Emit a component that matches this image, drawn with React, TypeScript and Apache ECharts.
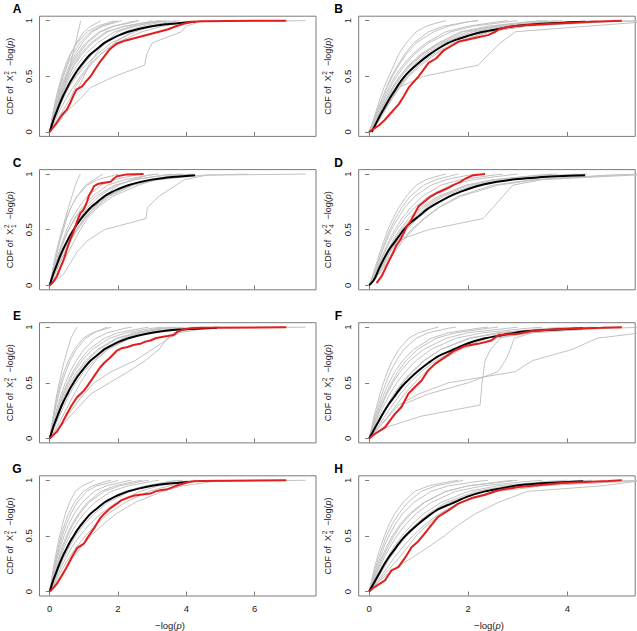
import React, { useEffect, useRef } from 'react';
import * as echarts from 'echarts';

// y-levels at which grey curves' x-positions (quantiles) were read
const LEVELS = [0, 0.1, 0.2, 0.3, 0.4, 0.5, 0.6, 0.7, 0.8, 0.9, 0.95, 0.99, 1];

const X_TICKS_LEFT = [0, 2, 4, 6];
const X_TICKS_RIGHT = [0, 2, 4];
const Y_TICKS = [0, 0.5, 1];

// ---------- Panel A ----------
const GREY_A = [
  [0, 0.1, 0.2, 0.3, 0.42, 0.52, 0.6, 0.68, 0.76, 0.83, 0.87, 0.9, 0.9],
  [0, 0.06, 0.13, 0.2, 0.28, 0.38, 0.5, 0.62, 0.78, 1.0, 1.2, 1.45, 1.5],
  [0, 0.07, 0.15, 0.24, 0.33, 0.45, 0.58, 0.75, 0.95, 1.25, 1.55, 2.0, 2.1],
  [0, 0.08, 0.17, 0.27, 0.38, 0.5, 0.65, 0.85, 1.1, 1.5, 1.9, 2.5, 2.6],
  [0, 0.09, 0.18, 0.29, 0.42, 0.55, 0.72, 0.95, 1.25, 1.7, 2.2, 2.9, 3.0],
  [0, 0.1, 0.2, 0.32, 0.45, 0.6, 0.8, 1.05, 1.4, 1.9, 2.4, 3.2, 3.4],
  [0, 0.08, 0.16, 0.25, 0.36, 0.48, 0.62, 0.8, 1.05, 1.45, 1.85, 2.4, 2.6],
  [0, 0.12, 0.25, 0.4, 0.55, 0.75, 0.98, 1.25, 1.65, 2.2, 2.7, 3.3, 3.5],
  [0, 0.1, 0.22, 0.38, 0.55, 0.78, 1.05, 1.4, 1.8, 2.5, 3.0, 3.6, 3.8],
  [0, 0.15, 0.3, 0.48, 0.68, 0.9, 1.15, 1.5, 1.95, 2.7, 3.3, 4.0, 4.2],
  [0, 0.25, 0.55, 0.9, 1.2, 1.9, 2.78, 2.84, 3.0, 3.85, 4.0, 4.4, 7.5],
  [0, 0.2, 0.4, 0.6, 0.75, 0.95, 1.2, 1.5, 1.9, 2.4, 2.9, 3.5, 3.7],
  [0, 0.05, 0.11, 0.18, 0.26, 0.35, 0.46, 0.6, 0.8, 1.1, 1.4, 1.8, 1.9],
  [0, 0.3, 0.5, 0.65, 0.85, 1.0, 1.15, 1.35, 1.6, 2.0, 2.5, 3.0, 3.2],
  [0, 0.07, 0.14, 0.22, 0.3, 0.4, 0.52, 0.68, 0.88, 1.2, 1.5, 1.9, 2.0],
  [0, 0.1, 0.2, 0.3, 0.42, 0.55, 0.7, 0.9, 1.2, 1.65, 2.2, 3.0, 3.3],
];
const BLACK_A = [[0, 0], [0.1, 0.1], [0.2, 0.18], [0.3, 0.26], [0.4, 0.33], [0.5, 0.39], [0.6, 0.45], [0.7, 0.5], [0.8, 0.55], [1, 0.63], [1.2, 0.7], [1.4, 0.75], [1.6, 0.8], [1.8, 0.835], [2, 0.865], [2.3, 0.9], [2.6, 0.925], [3, 0.95], [3.4, 0.967], [3.8, 0.978], [4.26, 0.99]];
const RED_A = [[0, 0], [0.1, 0.04], [0.2, 0.08], [0.35, 0.15], [0.5, 0.2], [0.6, 0.26], [0.7, 0.33], [0.78, 0.38], [0.95, 0.41], [1.05, 0.45], [1.2, 0.5], [1.3, 0.55], [1.45, 0.62], [1.6, 0.68], [1.75, 0.74], [1.95, 0.79], [2.2, 0.82], [2.45, 0.84], [2.7, 0.86], [2.95, 0.88], [3.2, 0.9], [3.45, 0.92], [3.7, 0.95], [3.9, 0.97], [4.1, 0.985], [4.4, 0.995], [6.93, 1]];

// ---------- Panel B ----------
const GREY_B = [
  [0, 0.08, 0.15, 0.22, 0.3, 0.4, 0.5, 0.6, 0.75, 0.95, 1.15, 1.45, 1.55],
  [0, 0.1, 0.18, 0.27, 0.36, 0.47, 0.6, 0.75, 0.95, 1.3, 1.6, 2.0, 2.2],
  [0, 0.12, 0.22, 0.32, 0.43, 0.56, 0.72, 0.92, 1.2, 1.65, 2.1, 2.8, 3.0],
  [0, 0.1, 0.2, 0.3, 0.4, 0.52, 0.68, 0.88, 1.15, 1.55, 2.0, 2.6, 2.8],
  [0, 0.14, 0.25, 0.36, 0.48, 0.62, 0.8, 1.05, 1.4, 1.9, 2.5, 3.3, 3.6],
  [0, 0.15, 0.28, 0.4, 0.54, 0.7, 0.9, 1.15, 1.5, 2.1, 2.7, 3.6, 3.9],
  [0, 0.2, 0.33, 0.47, 0.62, 0.8, 1.05, 1.35, 1.75, 2.45, 3.1, 4.2, 4.6],
  [0, 0.17, 0.3, 0.44, 0.6, 0.78, 1.0, 1.3, 1.7, 2.4, 3.2, 4.8, 5.6],
  [0, 0.12, 0.24, 0.35, 0.47, 0.62, 0.82, 1.08, 1.45, 2.0, 2.6, 3.5, 3.8],
  [0, 0.09, 0.17, 0.26, 0.35, 0.45, 0.58, 0.72, 0.9, 1.2, 1.5, 2.0, 2.2],
  [0, 0.12, 0.25, 0.4, 0.6, 1.1, 2.2, 2.42, 2.65, 2.95, 4.4, 5.6, 5.7],
  [0, 0.18, 0.32, 0.45, 0.6, 0.75, 0.95, 1.2, 1.55, 2.2, 3.0, 4.5, 5.6],
  [0, 0.13, 0.26, 0.38, 0.5, 0.65, 0.85, 1.1, 1.4, 1.85, 2.4, 3.2, 3.5],
];
const BLACK_B = [[0.05, 0], [0.1, 0.04], [0.2, 0.13], [0.3, 0.21], [0.4, 0.29], [0.5, 0.36], [0.6, 0.43], [0.7, 0.49], [0.8, 0.54], [1, 0.62], [1.2, 0.69], [1.4, 0.75], [1.6, 0.8], [1.8, 0.835], [2, 0.865], [2.3, 0.9], [2.6, 0.925], [3, 0.955], [3.4, 0.97], [3.8, 0.98], [4.36, 0.99]];
const RED_B = [[0, 0], [0.1, 0.03], [0.2, 0.06], [0.3, 0.1], [0.4, 0.15], [0.5, 0.2], [0.6, 0.25], [0.7, 0.32], [0.8, 0.4], [0.9, 0.45], [1.0, 0.5], [1.1, 0.56], [1.2, 0.62], [1.35, 0.66], [1.5, 0.73], [1.65, 0.77], [1.8, 0.81], [2.0, 0.83], [2.2, 0.85], [2.4, 0.87], [2.55, 0.9], [2.65, 0.93], [2.9, 0.95], [3.2, 0.96], [3.6, 0.97], [4.0, 0.98], [4.5, 0.99], [5.1, 1]];

// ---------- Panel C ----------
const GREY_C = [
  [0, 0.08, 0.15, 0.22, 0.3, 0.38, 0.45, 0.55, 0.65, 0.75, 0.82, 0.88, 0.9],
  [0, 0.07, 0.14, 0.22, 0.3, 0.4, 0.5, 0.62, 0.8, 1.05, 1.3, 1.5, 1.55],
  [0, 0.08, 0.17, 0.27, 0.38, 0.5, 0.65, 0.85, 1.1, 1.5, 1.9, 2.5, 2.7],
  [0, 0.1, 0.2, 0.3, 0.42, 0.56, 0.72, 0.95, 1.25, 1.7, 2.2, 2.9, 3.1],
  [0, 0.12, 0.25, 0.38, 0.52, 0.68, 0.88, 1.1, 1.45, 1.95, 2.5, 3.3, 3.6],
  [0, 0.15, 0.3, 0.45, 0.6, 0.78, 1.0, 1.3, 1.7, 2.3, 2.9, 3.8, 4.1],
  [0, 0.1, 0.22, 0.35, 0.5, 0.7, 0.95, 1.25, 1.65, 2.4, 3.2, 4.5, 5.8],
  [0, 0.09, 0.18, 0.28, 0.4, 0.55, 0.75, 1.0, 1.35, 1.9, 2.5, 3.4, 3.8],
  [0, 0.4, 0.6, 0.8, 1.1, 1.6, 2.82, 2.86, 3.2, 3.7, 3.95, 4.6, 7.5],
  [0, 0.2, 0.35, 0.55, 0.72, 0.9, 1.1, 1.4, 1.85, 2.6, 3.1, 3.9, 4.2],
  [0, 0.06, 0.12, 0.19, 0.27, 0.36, 0.48, 0.62, 0.8, 1.1, 1.4, 1.9, 2.0],
  [0, 0.11, 0.24, 0.4, 0.58, 0.78, 1.02, 1.3, 1.6, 2.0, 2.4, 2.9, 3.2],
  [0, 0.13, 0.28, 0.45, 0.62, 0.82, 1.05, 1.35, 1.75, 2.45, 3.0, 3.6, 3.9],
];
const BLACK_C = [[0, 0], [0.1, 0.1], [0.2, 0.18], [0.3, 0.26], [0.4, 0.33], [0.5, 0.39], [0.6, 0.45], [0.7, 0.5], [0.8, 0.55], [1, 0.63], [1.2, 0.7], [1.4, 0.75], [1.6, 0.8], [1.8, 0.835], [2, 0.865], [2.3, 0.9], [2.6, 0.925], [3, 0.95], [3.4, 0.967], [3.8, 0.978], [4.26, 0.99]];
const RED_C = [[0, 0], [0.1, 0.03], [0.21, 0.08], [0.3, 0.15], [0.41, 0.23], [0.5, 0.32], [0.6, 0.41], [0.68, 0.47], [0.75, 0.53], [0.82, 0.59], [0.9, 0.65], [0.97, 0.67], [1.04, 0.71], [1.1, 0.76], [1.14, 0.8], [1.19, 0.83], [1.25, 0.86], [1.29, 0.89], [1.4, 0.91], [1.55, 0.92], [1.78, 0.93], [1.88, 0.96], [1.97, 0.98], [2.26, 0.997], [2.75, 1]];

// ---------- Panel D ----------
const GREY_D = [
  [0, 0.08, 0.15, 0.22, 0.3, 0.38, 0.48, 0.6, 0.75, 0.95, 1.15, 1.45, 1.55],
  [0, 0.1, 0.18, 0.26, 0.35, 0.45, 0.58, 0.72, 0.92, 1.25, 1.55, 2.0, 2.2],
  [0, 0.12, 0.22, 0.32, 0.43, 0.56, 0.72, 0.92, 1.2, 1.65, 2.1, 2.8, 3.0],
  [0, 0.14, 0.26, 0.38, 0.5, 0.65, 0.85, 1.1, 1.45, 2.0, 2.6, 3.5, 3.8],
  [0, 0.16, 0.3, 0.43, 0.57, 0.75, 0.98, 1.25, 1.6, 2.2, 2.9, 4.0, 4.4],
  [0, 0.18, 0.33, 0.48, 0.65, 0.85, 1.1, 1.4, 1.8, 2.5, 3.3, 4.8, 5.6],
  [0, 0.15, 0.3, 0.42, 0.55, 1.2, 2.3, 2.5, 2.7, 2.9, 3.5, 5.3, 5.6],
  [0, 0.12, 0.24, 0.36, 0.48, 0.62, 0.8, 1.05, 1.4, 1.95, 2.5, 3.4, 3.7],
  [0, 0.2, 0.36, 0.52, 0.68, 0.88, 1.12, 1.42, 1.85, 2.6, 3.4, 5.0, 5.6],
  [0, 0.11, 0.2, 0.3, 0.4, 0.52, 0.66, 0.84, 1.08, 1.45, 1.85, 2.5, 2.7],
  [0, 0.15, 0.28, 0.4, 0.54, 0.7, 0.9, 1.15, 1.5, 2.1, 2.8, 3.8, 4.2],
  [0, 0.09, 0.17, 0.25, 0.33, 0.42, 0.53, 0.66, 0.83, 1.1, 1.35, 1.7, 1.8],
];
const BLACK_D = [[0, 0], [0.1, 0.05], [0.2, 0.15], [0.3, 0.24], [0.4, 0.32], [0.5, 0.38], [0.6, 0.44], [0.7, 0.5], [0.83, 0.56], [1, 0.62], [1.16, 0.68], [1.3, 0.72], [1.5, 0.77], [1.7, 0.815], [1.84, 0.84], [2.17, 0.89], [2.58, 0.93], [3, 0.955], [3.4, 0.97], [3.8, 0.98], [4.36, 0.99]];
const RED_D = [[0.15, 0.02], [0.25, 0.08], [0.38, 0.2], [0.48, 0.29], [0.55, 0.36], [0.63, 0.41], [0.7, 0.47], [0.76, 0.53], [0.83, 0.57], [0.9, 0.63], [1.0, 0.71], [1.08, 0.74], [1.16, 0.77], [1.25, 0.8], [1.37, 0.83], [1.47, 0.85], [1.57, 0.87], [1.7, 0.9], [1.84, 0.93], [1.95, 0.96], [2.1, 0.99], [2.34, 1.0]];

// ---------- Panel E ----------
const GREY_E = [
  [0, 0.05, 0.1, 0.15, 0.21, 0.28, 0.35, 0.43, 0.52, 0.62, 0.7, 0.78, 0.8],
  [0, 0.06, 0.12, 0.19, 0.27, 0.36, 0.47, 0.6, 0.78, 1.05, 1.3, 1.6, 1.7],
  [0, 0.07, 0.15, 0.24, 0.34, 0.46, 0.6, 0.78, 1.0, 1.35, 1.7, 2.2, 2.4],
  [0, 0.08, 0.17, 0.27, 0.38, 0.52, 0.68, 0.88, 1.15, 1.6, 2.0, 2.7, 2.9],
  [0, 0.1, 0.2, 0.32, 0.45, 0.6, 0.8, 1.05, 1.4, 1.95, 2.5, 3.2, 3.5],
  [0, 0.12, 0.24, 0.37, 0.51, 0.68, 0.9, 1.18, 1.55, 2.15, 2.7, 3.4, 3.7],
  [0, 0.09, 0.18, 0.29, 0.41, 0.55, 0.72, 0.95, 1.25, 1.75, 2.25, 3.0, 3.3],
  [0, 0.14, 0.28, 0.43, 0.58, 0.77, 1.0, 1.3, 1.7, 2.35, 2.9, 3.6, 3.9],
  [0, 0.11, 0.22, 0.35, 0.49, 0.65, 0.85, 1.1, 1.45, 2.0, 2.6, 3.3, 3.6],
  [0, 0.05, 0.11, 0.17, 0.24, 0.32, 0.42, 0.55, 0.72, 0.98, 1.25, 1.7, 1.8],
  [0, 0.2, 0.38, 0.55, 0.72, 0.9, 1.1, 1.35, 1.7, 2.3, 2.9, 3.8, 4.3],
  [0, 0.3, 0.6, 0.9, 1.2, 1.75, 2.3, 2.8, 3.2, 3.45, 3.65, 4.2, 7.5],
  [0, 0.25, 0.5, 0.75, 1.0, 1.3, 1.8, 2.5, 3.0, 3.5, 3.8, 4.6, 5.0],
];
const BLACK_E = [[0, 0], [0.1, 0.1], [0.2, 0.18], [0.3, 0.26], [0.4, 0.33], [0.5, 0.39], [0.6, 0.45], [0.7, 0.5], [0.8, 0.55], [1, 0.63], [1.2, 0.7], [1.4, 0.75], [1.6, 0.8], [1.8, 0.835], [2, 0.865], [2.3, 0.9], [2.6, 0.925], [3, 0.95], [3.4, 0.967], [3.8, 0.978], [4.4, 0.988], [4.9, 0.995]];
const RED_E = [[0, 0], [0.1, 0.03], [0.21, 0.06], [0.35, 0.13], [0.5, 0.22], [0.65, 0.3], [0.8, 0.37], [0.9, 0.4], [1.0, 0.43], [1.1, 0.47], [1.19, 0.51], [1.3, 0.56], [1.48, 0.64], [1.6, 0.68], [1.78, 0.73], [1.97, 0.79], [2.1, 0.81], [2.26, 0.82], [2.45, 0.84], [2.65, 0.85], [2.8, 0.87], [2.95, 0.88], [3.1, 0.9], [3.24, 0.91], [3.45, 0.92], [3.63, 0.93], [3.75, 0.96], [3.92, 0.98], [4.15, 0.99], [4.41, 0.994], [6.93, 1]];

// ---------- Panel F ----------
const GREY_F = [
  [0, 0.06, 0.12, 0.19, 0.26, 0.34, 0.43, 0.55, 0.7, 0.95, 1.2, 1.6, 1.75],
  [0, 0.07, 0.14, 0.22, 0.3, 0.4, 0.52, 0.68, 0.9, 1.25, 1.6, 2.2, 2.4],
  [0, 0.09, 0.17, 0.26, 0.36, 0.48, 0.63, 0.82, 1.1, 1.55, 2.0, 2.8, 3.0],
  [0, 0.1, 0.2, 0.3, 0.42, 0.56, 0.73, 0.95, 1.25, 1.75, 2.3, 3.2, 3.5],
  [0, 0.13, 0.25, 0.38, 0.52, 0.68, 0.88, 1.12, 1.45, 2.0, 2.6, 3.6, 4.0],
  [0, 0.12, 0.24, 0.36, 0.5, 0.66, 0.86, 1.1, 1.45, 2.05, 2.7, 3.8, 4.2],
  [0, 0.17, 0.32, 0.47, 0.63, 0.82, 1.05, 1.35, 1.75, 2.4, 3.1, 4.2, 4.6],
  [0, 0.08, 0.16, 0.25, 0.34, 0.45, 0.58, 0.75, 0.98, 1.35, 1.75, 2.4, 2.6],
  [0, 0.2, 0.38, 0.55, 0.72, 0.92, 1.15, 1.45, 1.85, 2.55, 3.3, 4.8, 5.6],
  [0, 0.05, 0.1, 0.16, 0.22, 0.29, 0.37, 0.47, 0.6, 0.8, 1.0, 1.3, 1.4],
  [0, 0.35, 1.05, 2.24, 2.26, 2.28, 2.31, 2.34, 2.45, 2.65, 3.0, 4.0, 4.5],
  [0, 0.3, 0.5, 0.65, 1.2, 2.0, 2.6, 2.75, 2.85, 2.93, 3.3, 4.3, 4.8],
  [0, 0.2, 0.4, 0.6, 1.0, 1.6, 2.95, 3.3, 4.1, 4.6, 5.5, 5.7, 5.8],
];
const BLACK_F = [[0, 0], [0.1, 0.08], [0.2, 0.16], [0.3, 0.24], [0.4, 0.31], [0.5, 0.37], [0.65, 0.46], [0.8, 0.53], [1, 0.61], [1.2, 0.68], [1.4, 0.74], [1.66, 0.79], [2, 0.855], [2.34, 0.9], [2.7, 0.93], [3.01, 0.955], [3.4, 0.97], [3.8, 0.98], [4.32, 0.99]];
const RED_F = [[0, 0], [0.11, 0.04], [0.32, 0.1], [0.52, 0.22], [0.65, 0.28], [0.79, 0.4], [0.92, 0.46], [1.06, 0.52], [1.19, 0.61], [1.33, 0.67], [1.53, 0.73], [1.73, 0.79], [1.93, 0.83], [2.2, 0.85], [2.47, 0.88], [2.61, 0.93], [3.01, 0.94], [3.35, 0.97], [4.02, 0.985], [4.69, 0.994], [5.1, 1]];

// ---------- Panel G ----------
const GREY_G = [
  [0, 0.05, 0.1, 0.16, 0.22, 0.29, 0.37, 0.46, 0.58, 0.75, 0.95, 1.25, 1.3],
  [0, 0.06, 0.12, 0.18, 0.25, 0.33, 0.43, 0.55, 0.72, 0.98, 1.25, 1.65, 1.8],
  [0, 0.07, 0.14, 0.22, 0.31, 0.42, 0.55, 0.72, 0.95, 1.3, 1.65, 2.2, 2.4],
  [0, 0.08, 0.16, 0.26, 0.36, 0.49, 0.64, 0.84, 1.1, 1.5, 1.9, 2.5, 2.7],
  [0, 0.1, 0.2, 0.31, 0.43, 0.58, 0.76, 1.0, 1.32, 1.8, 2.3, 3.0, 3.2],
  [0, 0.12, 0.24, 0.37, 0.52, 0.7, 0.92, 1.2, 1.6, 2.2, 2.8, 3.5, 3.8],
  [0, 0.09, 0.18, 0.28, 0.39, 0.52, 0.68, 0.88, 1.15, 1.6, 2.05, 2.7, 2.9],
  [0, 0.15, 0.3, 0.47, 0.65, 0.88, 1.15, 1.5, 1.95, 2.65, 3.2, 3.9, 4.3],
  [0, 0.18, 0.36, 0.56, 0.78, 1.05, 1.35, 1.72, 2.2, 2.9, 3.5, 4.3, 5.0],
  [0, 0.13, 0.26, 0.41, 0.57, 0.76, 1.0, 1.3, 1.7, 2.35, 2.9, 3.6, 3.9],
  [0, 0.22, 0.45, 0.68, 0.92, 1.2, 1.55, 1.95, 2.5, 3.3, 3.9, 4.8, 7.5],
  [0, 0.06, 0.13, 0.2, 0.28, 0.37, 0.48, 0.62, 0.8, 1.08, 1.38, 1.9, 2.0],
];
const BLACK_G = [[0, 0], [0.1, 0.1], [0.2, 0.18], [0.3, 0.26], [0.4, 0.33], [0.5, 0.39], [0.6, 0.45], [0.7, 0.5], [0.8, 0.55], [1, 0.63], [1.2, 0.7], [1.4, 0.75], [1.6, 0.8], [1.8, 0.835], [2, 0.865], [2.3, 0.9], [2.6, 0.925], [3, 0.95], [3.5, 0.97], [4.05, 0.985]];
const RED_G = [[0, 0], [0.1, 0.03], [0.21, 0.07], [0.35, 0.14], [0.5, 0.22], [0.65, 0.31], [0.8, 0.39], [0.9, 0.41], [1.0, 0.43], [1.1, 0.48], [1.19, 0.52], [1.3, 0.57], [1.48, 0.66], [1.6, 0.7], [1.78, 0.75], [1.97, 0.79], [2.1, 0.82], [2.26, 0.84], [2.45, 0.86], [2.65, 0.87], [2.95, 0.88], [3.1, 0.9], [3.24, 0.91], [3.45, 0.92], [3.63, 0.94], [3.8, 0.96], [4.02, 0.98], [4.2, 0.99], [4.41, 0.994], [6.93, 1]];

// ---------- Panel H ----------
const GREY_H = [
  [0, 0.05, 0.1, 0.16, 0.23, 0.31, 0.4, 0.52, 0.68, 0.92, 1.2, 1.65, 1.8],
  [0, 0.07, 0.14, 0.22, 0.3, 0.4, 0.52, 0.68, 0.9, 1.25, 1.6, 2.2, 2.4],
  [0, 0.08, 0.16, 0.25, 0.35, 0.47, 0.62, 0.82, 1.1, 1.55, 2.0, 2.8, 3.0],
  [0, 0.1, 0.2, 0.3, 0.42, 0.56, 0.73, 0.95, 1.25, 1.75, 2.3, 3.2, 3.5],
  [0, 0.12, 0.24, 0.36, 0.5, 0.66, 0.86, 1.1, 1.45, 2.0, 2.6, 3.6, 4.0],
  [0, 0.15, 0.28, 0.42, 0.58, 0.76, 0.98, 1.25, 1.62, 2.25, 2.9, 4.0, 4.5],
  [0, 0.18, 0.34, 0.5, 0.68, 0.88, 1.12, 1.42, 1.82, 2.5, 3.2, 4.6, 5.6],
  [0, 0.2, 0.4, 0.6, 0.78, 0.95, 1.18, 1.45, 1.85, 2.6, 3.5, 5.2, 5.6],
  [0, 0.22, 0.5, 0.85, 1.2, 1.52, 1.8, 2.15, 2.6, 3.2, 4.7, 5.4, 5.6],
  [0, 0.09, 0.18, 0.27, 0.38, 0.5, 0.65, 0.85, 1.12, 1.55, 2.0, 2.7, 2.9],
  [0, 0.13, 0.26, 0.4, 0.55, 0.72, 0.93, 1.2, 1.55, 2.15, 2.8, 3.9, 4.3],
  [0, 0.06, 0.12, 0.19, 0.27, 0.35, 0.46, 0.6, 0.78, 1.05, 1.35, 1.8, 1.9],
];
const BLACK_H = [[0, 0], [0.1, 0.08], [0.2, 0.16], [0.3, 0.24], [0.4, 0.31], [0.5, 0.37], [0.65, 0.46], [0.8, 0.53], [1, 0.61], [1.2, 0.68], [1.4, 0.74], [1.66, 0.79], [2, 0.855], [2.34, 0.9], [2.7, 0.93], [3.01, 0.955], [3.4, 0.97], [3.8, 0.98], [4.32, 0.99]];
const RED_H = [[0, 0], [0.11, 0.04], [0.32, 0.1], [0.45, 0.19], [0.59, 0.22], [0.72, 0.3], [0.86, 0.4], [0.99, 0.45], [1.12, 0.52], [1.26, 0.6], [1.39, 0.67], [1.6, 0.73], [1.8, 0.79], [2.07, 0.84], [2.34, 0.87], [2.61, 0.91], [3.01, 0.94], [3.41, 0.955], [3.89, 0.976], [4.36, 0.985], [4.83, 0.994], [5.1, 1]];

const PANELS = [
  { letter: 'A', df: '1', grey: GREY_A, black: BLACK_A, red: RED_A },
  { letter: 'B', df: '4', grey: GREY_B, black: BLACK_B, red: RED_B },
  { letter: 'C', df: '1', grey: GREY_C, black: BLACK_C, red: RED_C },
  { letter: 'D', df: '4', grey: GREY_D, black: BLACK_D, red: RED_D },
  { letter: 'E', df: '1', grey: GREY_E, black: BLACK_E, red: RED_E },
  { letter: 'F', df: '4', grey: GREY_F, black: BLACK_F, red: RED_F },
  { letter: 'G', df: '1', grey: GREY_G, black: BLACK_G, red: RED_G },
  { letter: 'H', df: '4', grey: GREY_H, black: BLACK_H, red: RED_H },
];

// layout
const COLS = [
  { left: 39.5, xMin: -0.3, xMax: 7.8, ticks: X_TICKS_LEFT, yLabelX: 10, titleX: 170, letterX: 17 },
  { left: 358.7, xMin: -0.21, xMax: 5.37, ticks: X_TICKS_RIGHT, yLabelX: 328, titleX: 489, letterX: 338.5 },
];
const ROW_TOPS = [16.2, 169.6, 322.7, 475.8];
const GRID_W = 276.5;
const GRID_H = 120.2;
const FONT = '"Liberation Sans", Arial, Helvetica, sans-serif';
const GREY = '#c2c2c2';
const RED = '#e41d1d';
const AXIS_GREY = '#7a7a7a';

function makeMeasure() {
  const c = document.createElement('canvas');
  const ctx = c.getContext('2d');
  return (t: string, size: number, style = 'normal') => {
    if (!ctx) return t.length * size * 0.55;
    ctx.font = `${style} ${size}px ${FONT}`;
    return ctx.measureText(t).width;
  };
}

function txt(x: number, y: number, text: string, size: number, extra: any = {}) {
  return {
    type: 'text',
    x,
    y,
    silent: true,
    style: {
      text,
      fontSize: size,
      fontFamily: FONT,
      fill: '#1a1a1a',
      textAlign: 'left',
      align: 'left',
      textVerticalAlign: 'middle',
      verticalAlign: 'middle',
      ...extra,
    },
  };
}

function yLabel(measure: any, cx: number, cy: number, df: string) {
  const fs = 9;
  const ss = 6.5;
  const a = 'CDF of  ';
  const b = '  \u2212log(';
  const wa = measure(a, fs);
  const wX = measure('X', fs);
  const ws = Math.max(measure('2', ss), measure(df, ss));
  const wb = measure(b, fs);
  const wp = measure('p', fs, 'italic');
  const wc = measure(')', fs);
  const total = wa + wX + 0.6 + ws + wb + wp + wc;
  let x = -total / 2;
  const children: any[] = [];
  children.push(txt(x, 0, a, fs));
  x += wa;
  children.push(txt(x, 0, 'X', fs));
  x += wX + 0.6;
  children.push(txt(x, -3.2, '2', ss));
  children.push(txt(x, 3.4, df, ss));
  x += ws;
  children.push(txt(x, 0, b, fs));
  x += wb;
  children.push(txt(x, 0, 'p', fs, { fontStyle: 'italic' }));
  x += wp;
  children.push(txt(x, 0, ')', fs));
  return { type: 'group', x: cx, y: cy, rotation: Math.PI / 2, children };
}

function buildOption() {
  const measure = makeMeasure();
  const grid: any[] = [];
  const xAxis: any[] = [];
  const yAxis: any[] = [];
  const series: any[] = [];
  const graphic: any[] = [];

  PANELS.forEach((p, i) => {
    const col = COLS[i % 2];
    const row = Math.floor(i / 2);
    const top = ROW_TOPS[row];
    grid.push({
      left: col.left,
      top,
      width: GRID_W,
      height: GRID_H,
      show: true,
      borderColor: AXIS_GREY,
      borderWidth: 1,
      backgroundColor: 'transparent',
    });
    xAxis.push({
      type: 'value',
      gridIndex: i,
      min: col.xMin,
      max: col.xMax,
      axisLine: { show: false },
      splitLine: { show: false },
      axisTick: { show: true, length: 4, customValues: col.ticks, lineStyle: { color: AXIS_GREY, width: 1 } },
      axisLabel: {
        show: row === 3,
        customValues: col.ticks,
        fontSize: 9.5,
        fontFamily: FONT,
        color: '#1a1a1a',
        margin: 7,
      },
    });
    yAxis.push({
      type: 'value',
      gridIndex: i,
      min: -0.04,
      max: 1.04,
      axisLine: { show: false },
      splitLine: { show: false },
      axisTick: { show: true, length: 4, customValues: Y_TICKS, lineStyle: { color: AXIS_GREY, width: 1 } },
      axisLabel: {
        customValues: Y_TICKS,
        rotate: 90,
        fontSize: 9.5,
        fontFamily: FONT,
        color: '#1a1a1a',
        margin: 6,
      },
    });

    p.grey.forEach((q) => {
      series.push({
        type: 'line',
        xAxisIndex: i,
        yAxisIndex: i,
        data: q.map((x, k) => [x, LEVELS[k]]),
        symbol: 'none',
        silent: true,
        z: 1,
        lineStyle: { color: GREY, width: 1 },
      });
    });
    series.push({
      type: 'line',
      xAxisIndex: i,
      yAxisIndex: i,
      data: p.black,
      symbol: 'none',
      smooth: 0.3,
      silent: true,
      z: 3,
      lineStyle: { color: '#000', width: 2 },
    });
    series.push({
      type: 'line',
      xAxisIndex: i,
      yAxisIndex: i,
      data: p.red,
      symbol: 'none',
      silent: true,
      z: 4,
      lineStyle: { color: RED, width: 2 },
    });

    graphic.push(txt(col.letterX, top - 7, p.letter, 12, { fontWeight: 'bold', fill: '#000', textAlign: 'center', align: 'center' }));
    graphic.push(yLabel(measure, col.yLabelX, top + GRID_H / 2, p.df));
    if (row === 3) {
      graphic.push(
        txt(col.titleX, 625, '\u2212log({i|p})', 9.5, {
          textAlign: 'center',
          align: 'center',
          rich: { i: { fontStyle: 'italic', fontSize: 9.5, fontFamily: FONT, fill: '#1a1a1a' } },
        })
      );
    }
  });

  return {
    animation: false,
    backgroundColor: '#ffffff',
    grid,
    xAxis,
    yAxis,
    series,
    graphic: { elements: graphic },
  };
}

export default function App() {
  const ref = useRef<HTMLDivElement | null>(null);
  useEffect(() => {
    if (!ref.current) return;
    const chart = echarts.init(ref.current, undefined, { renderer: 'svg' });
    chart.setOption(buildOption() as any);
    return () => chart.dispose();
  }, []);
  return (
    <div
      ref={ref}
      style={{ position: 'absolute', left: 0, top: 0, width: 637, height: 631, background: '#fff' }}
    />
  );
}
